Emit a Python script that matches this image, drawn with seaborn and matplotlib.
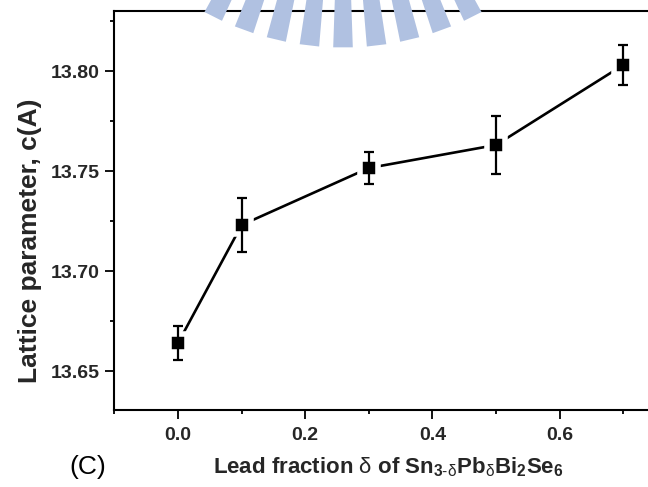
import numpy as np
import matplotlib
matplotlib.use("Agg")
import matplotlib.pyplot as plt
from matplotlib.patches import Polygon
from matplotlib.ticker import MultipleLocator, FormatStrFormatter
import seaborn as sns

# Lattice parameter c versus lead fraction
delta = [0.0, 0.1, 0.3, 0.5, 0.7]
c_lattice = [13.664, 13.723, 13.7515, 13.763, 13.803]
c_error = [0.0083, 0.0135, 0.008, 0.0143, 0.010]

x_ticks = [0.0, 0.2, 0.4, 0.6]
y_ticks = [13.65, 13.70, 13.75, 13.80]

sns.set_theme(style="ticks")
plt.rcParams["font.family"] = ["Liberation Sans", "DejaVu Sans"]
plt.rcParams["mathtext.default"] = "regular"
plt.rcParams["mathtext.fontset"] = "custom"
plt.rcParams["mathtext.rm"] = "Liberation Sans"

W, H = 648, 487
fig = plt.figure(figsize=(W / 100, H / 100), dpi=100)
ax = fig.add_axes([114 / W, 1 - 410 / H, 1 - 114 / W, (410 - 11) / H])

sns.lineplot(x=delta, y=c_lattice, ax=ax, color="black", linewidth=1.9,
             marker="s", markersize=12.5, markerfacecolor="black",
             markeredgecolor="white", markeredgewidth=4, zorder=3)
ax.errorbar(delta, c_lattice, yerr=c_error, fmt="none", ecolor="black",
            elinewidth=1.6, capsize=3.8, capthick=1.6, zorder=4)

ax.set_xlim(-0.1007, 0.739)
ax.set_ylim(13.6305, 13.83)
ax.set_xticks(x_ticks)
ax.set_yticks(y_ticks)
ax.xaxis.set_minor_locator(MultipleLocator(0.1))
ax.yaxis.set_minor_locator(MultipleLocator(0.025))
ax.xaxis.set_major_formatter(FormatStrFormatter("%.1f"))
ax.yaxis.set_major_formatter(FormatStrFormatter("%.2f"))

for side in ("left", "bottom", "top"):
    ax.spines[side].set_linewidth(1.5)
    ax.spines[side].set_color("black")
ax.spines["right"].set_visible(False)

ax.tick_params(which="major", direction="out", length=6.5, width=1.3,
               color="black", labelsize=14, pad=3.5)
ax.tick_params(which="minor", direction="out", length=3, width=1.3,
               color="black")
ax.tick_params(axis="x", which="major", pad=5.5)
for lab in ax.get_xticklabels() + ax.get_yticklabels():
    lab.set_fontweight("bold")

ax.set_ylabel("Lattice parameter, c(A)", fontsize=19, fontweight="bold")
ax.yaxis.set_label_coords((30 - 114) / (W - 114), (410 - 241) / 399)
ax.yaxis.label.set_va("center")

ax.set_xlabel(r"Lead fraction $\mathrm{δ}$ of Sn$_{3\text{-}\mathrm{δ}}$"
              r"Pb$_{\mathrm{δ}}$Bi$_{2}$Se$_{6}$",
              fontsize=16, fontweight="bold")
ax.xaxis.set_label_coords((388 - 114) / (W - 114), (410 - 467) / 399)
ax.xaxis.label.set_va("center")

fig.text(88 / W, 1 - 467 / H, "(C)", fontsize=19, ha="center", va="center",
         color="black")

# Radial emblem across the top edge
cx, cy = 343.0, -240.5
r_in, r_out = 200.0, 288.0
half = np.deg2rad(1.95)
for k in range(-4, 5):
    th = np.deg2rad(6.7 * k)
    pts = []
    for r, a in ((r_in, th - half), (r_out, th - half),
                 (r_out, th + half), (r_in, th + half)):
        px = cx + r * np.sin(a)
        py = cy + r * np.cos(a)
        pts.append((px / W, 1 - py / H))
    fig.patches.append(Polygon(pts, closed=True, facecolor="#b0c1e1",
                               edgecolor="none", transform=fig.transFigure,
                               zorder=10))

fig.savefig("out.png", dpi=100)
